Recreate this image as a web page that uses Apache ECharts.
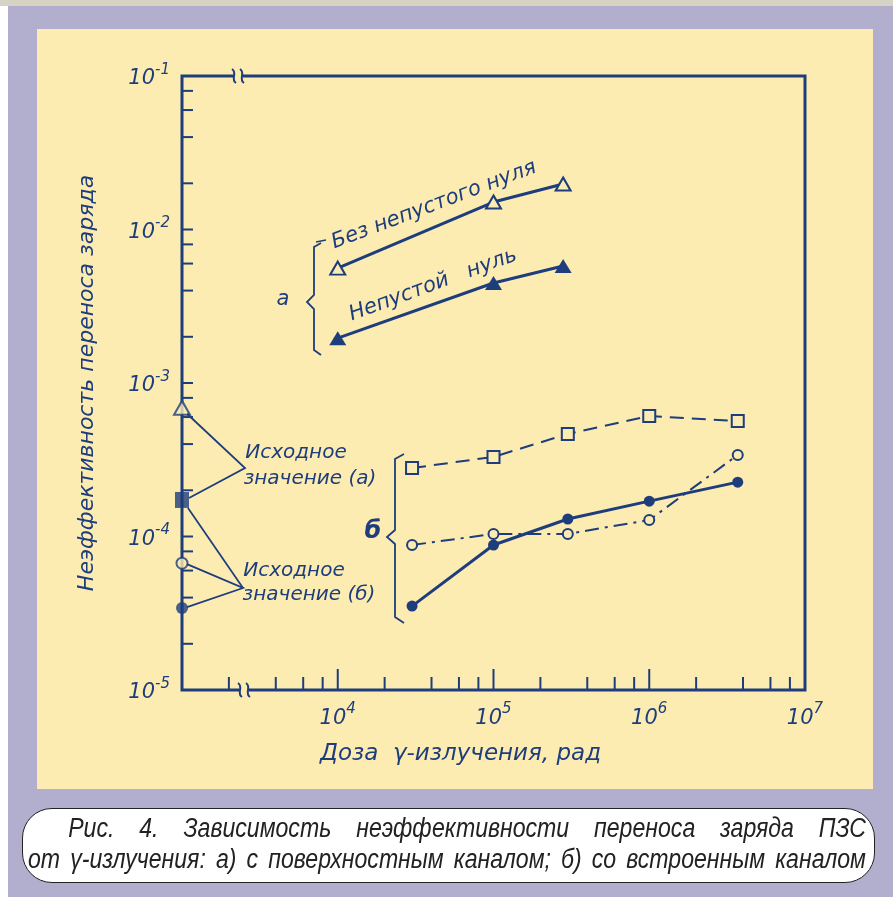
<!DOCTYPE html>
<html>
<head>
<meta charset="utf-8">
<script src="https://cdn.jsdelivr.net/npm/echarts@6/dist/echarts.min.js"></script>
<style>
  html, body { margin: 0; padding: 0; width: 893px; height: 897px; background: #fff; overflow: hidden; }
  .strip { position: absolute; left: 0; top: 0; width: 893px; height: 6px; background: #d6d2c4; }
  .frame { position: absolute; left: 8px; top: 6px; width: 885px; height: 891px; background: #b1afcd; }
  .panel { position: absolute; left: 37px; top: 29px; width: 836px; height: 760px; background: #fdecb1; }
  #chart { position: absolute; left: 0; top: 0; width: 893px; height: 897px; }
  .caption {
    position: absolute; left: 22px; top: 808px; width: 853px; height: 75px; box-sizing: border-box;
    border: 1.5px solid #222; border-radius: 30px; background: #fff;
    font: italic 27px 'Liberation Sans', Arial, sans-serif; color: #222;
    padding: 4px 5px 0 5px;
  }
  /* узкое начертание: растягиваем строку и сжимаем по горизонтали */
  .caption div {
    width: 980px; transform: scaleX(0.855); transform-origin: 0 0;
    text-align: justify; text-align-last: justify; line-height: 31px; white-space: nowrap;
  }
  .caption .l1 { padding-left: 47px; width: 933px; }
</style>
</head>
<body>
<div class="strip"></div>
<div class="frame"></div>
<div class="panel"></div>
<div id="chart"></div>
<div class="caption">
  <div class="l1">Рис. 4. Зависимость неэффективности переноса заряда ПЗС</div>
  <div>от γ-излучения: а) с поверхностным каналом; б) со встроенным каналом</div>
</div>
<script>
  // цвета
  const ink = '#1d3d7c'
  const paper = '#fdecb1'
  const hand = "'DejaVu Sans', sans-serif"

  // а) поверхностный канал
  const xA = [1e4, 1e5, 2.8e5]
  const bezNulya = [5.6e-3, 1.51e-2, 1.98e-2]      // без непустого нуля
  const nepustoyNul = [1.96e-3, 4.48e-3, 5.78e-3]  // непустой нуль
  // б) встроенный канал
  const xB = [3e4, 1e5, 3e5, 1e6, 3.7e6]
  const squaresB = [2.79e-4, 3.3e-4, 4.66e-4, 6.1e-4, 5.65e-4]
  const openCirclesB = [8.8e-5, 1.04e-4, 1.04e-4, 1.28e-4, 3.4e-4]
  const filledCirclesB = [3.52e-5, 8.8e-5, 1.3e-4, 1.7e-4, 2.26e-4]
  // исходные значения (до облучения) — на оси
  const x0 = 1e3
  const initOpenTriangle = 6.9e-4
  const initFilledSquare = 1.73e-4
  const initOpenCircle = 6.7e-5
  const initFilledCircle = 3.42e-5

  // засечки
  const xTicksMinor = [2e3, 4e3, 6e3, 8e3, 2e4, 4e4, 6e4, 8e4, 2e5, 4e5, 6e5, 8e5, 2e6, 4e6, 6e6, 8e6]
  const xTicksMajor = [1e4, 1e5, 1e6]
  const yTicks = [2e-5, 4e-5, 6e-5, 8e-5, 1e-4, 2e-4, 4e-4, 6e-4, 8e-4, 1e-3,
    2e-3, 4e-3, 6e-3, 8e-3, 1e-2, 2e-2, 4e-2, 6e-2, 8e-2]

  const pairs = (xs, ys) => xs.map((x, i) => [x, ys[i]])

  function tickSeries(data, dir, len) {
    return {
      type: 'custom',
      silent: true,
      z: 1,
      data: data,
      renderItem: function (params, api) {
        const p = api.coord([api.value(0), api.value(1)])
        const shape = dir === 'x'
          ? { x1: p[0], y1: p[1], x2: p[0], y2: p[1] - len }
          : { x1: p[0], y1: p[1], x2: p[0] + len, y2: p[1] }
        return { type: 'line', shape: shape, style: { stroke: ink, lineWidth: 2 } }
      }
    }
  }

  const powLabel = function (v) {
    const e = Math.round(Math.log10(v))
    return '{b|10}{s|' + e + '}'
  }
  const richPow = {
    b: { fontFamily: hand, fontStyle: 'italic', fontSize: 21, color: ink, lineHeight: 27, verticalAlign: 'bottom' },
    s: { fontFamily: hand, fontStyle: 'italic', fontSize: 15, color: ink, lineHeight: 27, verticalAlign: 'top' }
  }

  const chart = echarts.init(document.getElementById('chart'))
  const option = {
    backgroundColor: 'transparent',
    animation: false,
    grid: {
      left: 182, top: 76, right: 88, bottom: 207,
      show: true, borderColor: ink, borderWidth: 3
    },
    xAxis: {
      type: 'log', logBase: 10, min: 1e3, max: 1e7,
      axisLine: { show: false }, axisTick: { show: false }, splitLine: { show: false },
      axisLabel: {
        margin: 12,
        formatter: function (v) { return v < 1e4 ? '' : powLabel(v) },
        rich: richPow
      },
      name: 'Доза  γ-излучения, рад',
      nameLocation: 'middle', nameGap: 53,
      nameTextStyle: { fontFamily: hand, fontStyle: 'italic', fontSize: 23, color: ink, padding: [0, 66, 0, 0] }
    },
    yAxis: {
      type: 'log', logBase: 10, min: 1e-5, max: 1e-1,
      axisLine: { show: false }, axisTick: { show: false }, splitLine: { show: false },
      axisLabel: { margin: 12, formatter: powLabel, rich: richPow },
      name: 'Неэффективность переноса заряда',
      nameLocation: 'middle', nameGap: 84, nameRotate: 90,
      nameTextStyle: { fontFamily: hand, fontStyle: 'italic', fontSize: 22, color: ink }
    },
    series: [
      tickSeries(xTicksMinor.map(v => [v, 1e-5]), 'x', 13),
      tickSeries(xTicksMajor.map(v => [v, 1e-5]), 'x', 21),
      tickSeries(yTicks.map(v => [x0, v]), 'y', 11),
      {
        name: 'Без непустого нуля', type: 'line', z: 4,
        data: pairs(xA, bezNulya),
        symbol: 'triangle', symbolSize: [15, 13],
        itemStyle: { color: paper, borderColor: ink, borderWidth: 2 },
        lineStyle: { color: ink, width: 3 }
      },
      {
        name: 'Непустой нуль', type: 'line', z: 4,
        data: pairs(xA, nepustoyNul),
        symbol: 'triangle', symbolSize: [17, 14],
        itemStyle: { color: ink },
        lineStyle: { color: ink, width: 3 }
      },
      {
        name: 'б: квадраты', type: 'line', z: 4,
        data: pairs(xB, squaresB),
        symbol: 'rect', symbolSize: 12,
        itemStyle: { color: paper, borderColor: ink, borderWidth: 2 },
        lineStyle: { color: ink, width: 2, type: [14, 8] }
      },
      {
        name: 'б: светлые кружки', type: 'line', z: 4,
        data: pairs(xB, openCirclesB),
        symbol: 'circle', symbolSize: 10,
        itemStyle: { color: paper, borderColor: ink, borderWidth: 2 },
        lineStyle: { color: ink, width: 2, type: [14, 6, 3, 6] }
      },
      {
        name: 'б: тёмные кружки', type: 'line', z: 4,
        data: pairs(xB, filledCirclesB),
        symbol: 'circle', symbolSize: 11,
        itemStyle: { color: ink },
        lineStyle: { color: ink, width: 3 }
      },
      {
        name: 'исходные, светлые', type: 'scatter', z: 5,
        data: [
          { value: [x0, initOpenTriangle], symbol: 'triangle', symbolSize: [16, 14] },
          { value: [x0, initOpenCircle], symbol: 'circle', symbolSize: 11 }
        ],
        itemStyle: { color: paper, borderColor: ink, borderWidth: 2 }
      },
      {
        name: 'исходные, тёмные', type: 'scatter', z: 5,
        data: [
          { value: [x0, initFilledSquare], symbol: 'rect', symbolSize: [14, 16] },
          { value: [x0, initFilledCircle], symbol: 'circle', symbolSize: 12 }
        ],
        itemStyle: { color: ink }
      }
    ]
  }
  chart.setOption(option)

  // подписи и выноски
  const px = (x, y) => chart.convertToPixel({ gridIndex: 0 }, [x, y])
  const txt = (text, x, y, size, rot, weight) => ({
    type: 'text', x: x, y: y, rotation: rot || 0, z: 10,
    style: {
      text: text, fill: ink, font: 'italic ' + (weight || '') + ' ' + size + 'px ' + hand,
      align: 'center', verticalAlign: 'middle'
    }
  })
  const seg = (pts, w) => ({
    type: 'polyline', z: 10, shape: { points: pts },
    style: { stroke: ink, lineWidth: w || 1.8, fill: null }
  })
  const brk = (cx, cy) => {
    // разрыв оси
    const g = [{ type: 'rect', z: 11, shape: { x: cx - 5, y: cy - 3, width: 10, height: 6 }, style: { fill: paper } }]
    ;[-4, 4].forEach(d => {
      g.push({
        type: 'bezierCurve', z: 12,
        shape: { x1: cx + d - 2, y1: cy - 7, cpx1: cx + d + 4, cpy1: cy - 3, cpx2: cx + d - 4, cpy2: cy + 3, x2: cx + d + 2, y2: cy + 7 },
        style: { stroke: ink, lineWidth: 2, fill: null }
      })
    })
    return g
  }

  const pTri = px(x0, initOpenTriangle)
  const pSq = px(x0, initFilledSquare)
  const pOc = px(x0, initOpenCircle)
  const pFc = px(x0, initFilledCircle)
  const vA = [245, 468]
  const vB = [243, 588]

  const graphic = [
    txt('Без непустого нуля', 434, 205, 21, 0.36),
    txt('Непустой   нуль', 433, 285, 21, 0.35),
    seg([[316, 242], [326, 240]], 1.5),
    txt('а', 283, 300, 21, 0),
    seg([[321, 243], [314, 247], [314, 295], [307, 302], [314, 309], [314, 350], [321, 355]], 1.8),
    txt('б', 373, 532, 24, 0, 'bold'),
    seg([[404, 454], [395, 459], [395, 530], [387, 537], [395, 544], [395, 617], [404, 623]], 1.8),
    txt('Исходное', 296, 453, 20, 0),
    txt('значение (а)', 310, 479, 20, 0),
    txt('Исходное', 294, 571, 20, 0),
    txt('значение (б)', 309, 595, 20, 0),
    seg([[pTri[0] + 5, pTri[1] + 6], vA, [pSq[0] + 7, pSq[1] - 2]]),
    seg([[pSq[0] + 6, pSq[1] + 8], vB]),
    seg([[pOc[0] + 5, pOc[1] + 1], vB, [pFc[0] + 5, pFc[1] - 1]])
  ].concat(brk(238, 76), brk(244, 690))

  chart.setOption({ graphic: graphic })
</script>
</body>
</html>
